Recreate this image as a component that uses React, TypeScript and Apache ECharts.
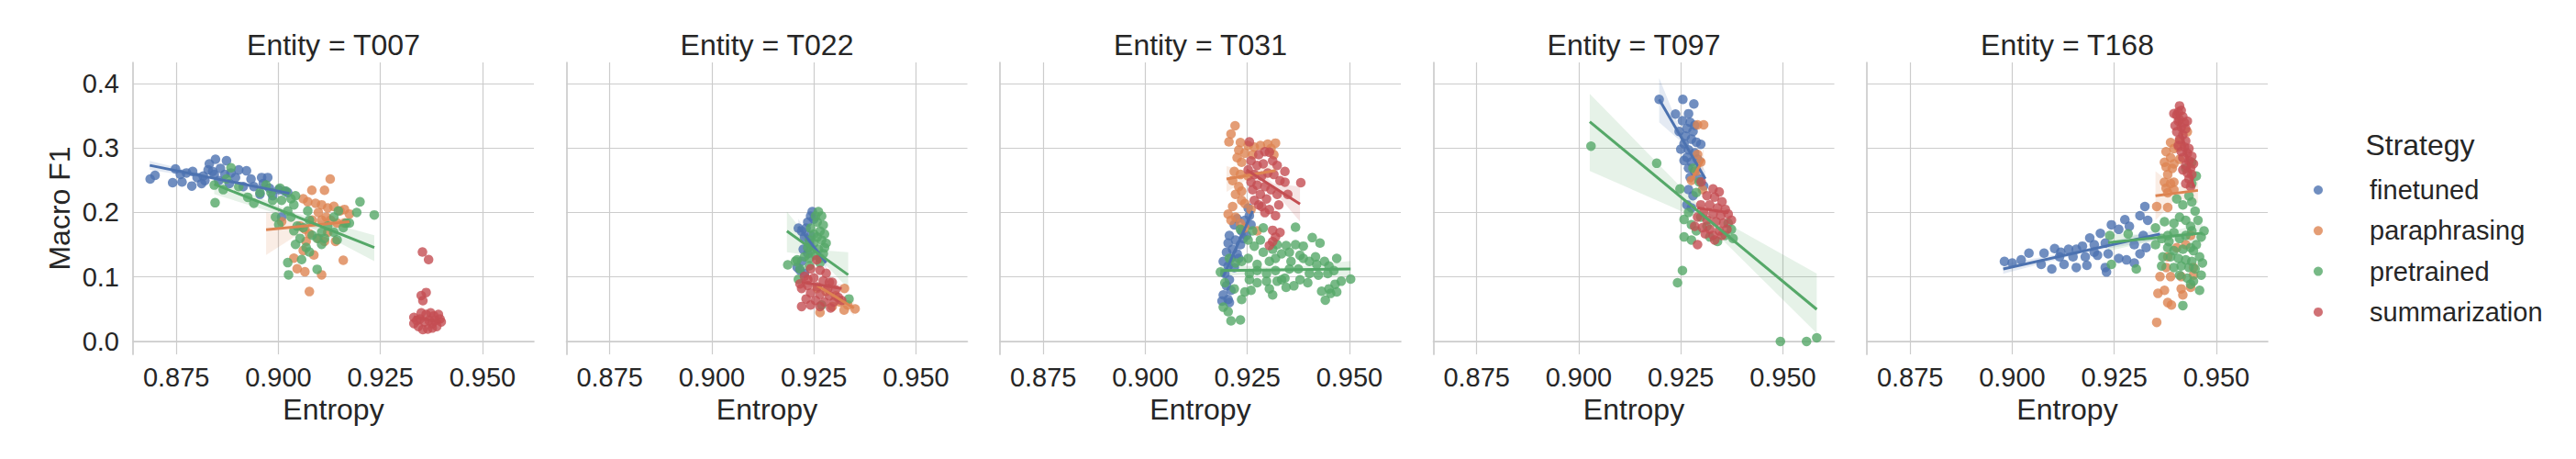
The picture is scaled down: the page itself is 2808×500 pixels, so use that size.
import React, { useEffect, useRef } from "react";
import * as echarts from "echarts";

// ---------- categories / ticks ----------
const entities = ["T007", "T022", "T031", "T097", "T168"];
const strategies = ["finetuned", "paraphrasing", "pretrained", "summarization"];
const colors = ["#4C72B0", "#DD8452", "#55A868", "#C44E52"];
const xTicks = [0.875, 0.9, 0.925, 0.95];
const yTicks = [0, 0.1, 0.2, 0.3, 0.4];

// ---------- T007 ----------
const T007_finetuned = [
  [0.8686, 0.2519], [0.8698, 0.2575], [0.8741, 0.2462], [0.8748, 0.2675], [0.8764, 0.2472], [0.876, 0.259],
  [0.8775, 0.2613], [0.8788, 0.241], [0.879, 0.2637], [0.8801, 0.2542], [0.8812, 0.2448], [0.8816, 0.2566],
  [0.8828, 0.266], [0.8831, 0.2755], [0.8846, 0.2825], [0.8843, 0.259], [0.8858, 0.2684], [0.8854, 0.2495],
  [0.8873, 0.2802], [0.8869, 0.259], [0.888, 0.2448], [0.8884, 0.2613], [0.8895, 0.2542], [0.8903, 0.266],
  [0.8922, 0.2646], [0.8914, 0.2401], [0.8933, 0.2519], [0.894, 0.2401], [0.8959, 0.2542], [0.8974, 0.2542],
  [0.8963, 0.2448], [0.8978, 0.2377], [0.9001, 0.2354], [0.9008, 0.1929], [0.9016, 0.233], [0.9023, 0.2307],
  [0.8955, 0.2283], [0.8986, 0.2259], [0.882, 0.2495], [0.8839, 0.2637],
];
const T007_paraphrasing = [
  [0.9127, 0.2519], [0.9082, 0.2344], [0.9113, 0.2344], [0.9061, 0.2212], [0.9072, 0.2165], [0.9091, 0.2142],
  [0.9106, 0.2118], [0.9121, 0.2071], [0.9136, 0.2094], [0.9151, 0.2024], [0.9174, 0.1976], [0.9162, 0.2047],
  [0.9098, 0.2], [0.9083, 0.1882], [0.9106, 0.1882], [0.9117, 0.1929], [0.9128, 0.1882], [0.9144, 0.1835],
  [0.9162, 0.1835], [0.9065, 0.1741], [0.9076, 0.167], [0.9098, 0.1599], [0.9113, 0.1552], [0.9068, 0.1552],
  [0.9061, 0.141], [0.9087, 0.134], [0.9038, 0.1292], [0.9046, 0.1127], [0.9065, 0.108], [0.9106, 0.1033],
  [0.9159, 0.1259], [0.9076, 0.0774], [0.914, 0.1552], [0.9121, 0.1693], [0.9008, 0.1858], [0.9053, 0.1788],
];
const T007_pretrained = [
  [0.8845, 0.2151], [0.8884, 0.2693], [0.8873, 0.2519], [0.8865, 0.2354], [0.8843, 0.2425], [0.8903, 0.2401],
  [0.8925, 0.2236], [0.894, 0.2142], [0.8955, 0.2307], [0.897, 0.2425], [0.8982, 0.2307], [0.8986, 0.2189],
  [0.9004, 0.2377], [0.9019, 0.233], [0.9008, 0.2189], [0.9031, 0.2212], [0.9042, 0.2259], [0.9038, 0.2118],
  [0.9023, 0.2024], [0.9031, 0.1929], [0.9046, 0.1788], [0.9038, 0.1717], [0.9061, 0.1764], [0.9072, 0.2024],
  [0.9076, 0.1882], [0.9083, 0.1646], [0.9053, 0.1599], [0.9042, 0.1505], [0.9068, 0.1458], [0.9076, 0.1387],
  [0.9057, 0.1269], [0.9023, 0.1222], [0.9025, 0.1033], [0.9095, 0.1118], [0.9095, 0.1599], [0.9106, 0.1693],
  [0.9121, 0.1788], [0.9136, 0.1693], [0.9147, 0.2024], [0.9144, 0.1575], [0.9159, 0.1764], [0.9166, 0.1835],
  [0.9174, 0.1835], [0.9192, 0.2], [0.92, 0.2165], [0.9235, 0.1962], [0.9001, 0.1811], [0.8993, 0.1929],
  [0.9106, 0.1505], [0.9136, 0.1929], [0.9113, 0.1599],
];
const T007_summarization = [
  [0.9353, 0.1387], [0.9368, 0.1269], [0.9362, 0.0759], [0.935, 0.0712], [0.9354, 0.0632], [0.9332, 0.0373],
  [0.9339, 0.0325], [0.935, 0.0443], [0.9362, 0.042], [0.9373, 0.0443], [0.9381, 0.0396], [0.9392, 0.042],
  [0.9399, 0.0302], [0.9388, 0.0231], [0.9377, 0.0208], [0.9366, 0.0193], [0.9354, 0.0184], [0.9343, 0.0231],
  [0.9332, 0.0278], [0.9347, 0.0349], [0.9358, 0.0302], [0.9369, 0.0325], [0.9377, 0.0278], [0.9384, 0.0325],
  [0.9396, 0.0349],
];
const T007_fits = [
  [[0.8685, 0.2731], [0.9027, 0.2297]],
  [[0.897, 0.1731], [0.9174, 0.1858]],
  [[0.8843, 0.2439], [0.9235, 0.1458]],
  [[0.9332, 0.038], [0.9399, 0.03]],
];
const T007_bands = [
  [[0.8685, 0.2661, 0.2801], [0.8856, 0.2494, 0.2534], [0.9027, 0.2247, 0.2347]],
  [[0.897, 0.134, 0.2], [0.9072, 0.1755, 0.1835], [0.9174, 0.178, 0.194]],
  [[0.8843, 0.2283, 0.2542], [0.9039, 0.19, 0.1996], [0.9235, 0.1245, 0.1646]],
  [[0.9332, 0.032, 0.044], [0.9366, 0.031, 0.037], [0.9399, 0.024, 0.036]],
];

// ---------- T022 ----------
const T022_finetuned = [
  [0.9246, 0.2014], [0.9242, 0.1944], [0.9235, 0.185], [0.9231, 0.1757], [0.922, 0.171], [0.9212, 0.1757],
  [0.9227, 0.1617], [0.9239, 0.1523], [0.9224, 0.143], [0.9235, 0.136], [0.922, 0.1243], [0.9216, 0.1103],
  [0.9227, 0.1056], [0.9209, 0.115], [0.925, 0.1897], [0.9242, 0.164],
];
const T022_paraphrasing = [
  [0.9325, 0.0822], [0.9324, 0.0486], [0.9351, 0.0505], [0.9265, 0.0449], [0.9295, 0.0542], [0.9314, 0.0612],
  [0.9333, 0.0565], [0.928, 0.0776], [0.9303, 0.0706], [0.9258, 0.0822],
];
const T022_pretrained = [
  [0.9261, 0.2014], [0.9269, 0.1944], [0.9258, 0.185], [0.9273, 0.1804], [0.9265, 0.171], [0.9276, 0.1664],
  [0.9258, 0.1617], [0.9269, 0.157], [0.928, 0.1523], [0.9276, 0.1453], [0.925, 0.1523], [0.9242, 0.1407],
  [0.9235, 0.1453], [0.9261, 0.143], [0.9254, 0.1336], [0.9239, 0.129], [0.9227, 0.1313], [0.9209, 0.1266],
  [0.9186, 0.1187], [0.9205, 0.1243], [0.9216, 0.1126], [0.9212, 0.0963], [0.9239, 0.1173], [0.9265, 0.129],
  [0.9273, 0.136], [0.9242, 0.1757], [0.9254, 0.1944], [0.925, 0.1664], [0.9239, 0.157], [0.9265, 0.122],
  [0.9336, 0.0659], [0.9269, 0.0565],
];
const T022_summarization = [
  [0.9257, 0.1266], [0.9242, 0.1126], [0.9265, 0.1103], [0.928, 0.1056], [0.9227, 0.1009], [0.925, 0.0986],
  [0.9273, 0.0939], [0.9295, 0.0916], [0.9235, 0.0869], [0.9258, 0.0846], [0.9284, 0.0822], [0.9303, 0.0799],
  [0.922, 0.0822], [0.9242, 0.0752], [0.9265, 0.0729], [0.9288, 0.0706], [0.931, 0.0682], [0.9231, 0.0659],
  [0.9254, 0.0636], [0.9276, 0.0612], [0.9299, 0.0612], [0.9318, 0.0636], [0.922, 0.0542], [0.9242, 0.0565],
  [0.9265, 0.0542], [0.9291, 0.0519], [0.9288, 0.0916], [0.9216, 0.0893], [0.9235, 0.0963],
];
const T022_fits = [
  [[0.9212, 0.178], [0.928, 0.122]],
  [[0.9258, 0.0869], [0.9348, 0.0519]],
  [[0.9184, 0.171], [0.9334, 0.1033]],
  [[0.922, 0.0916], [0.9318, 0.0822]],
];
const T022_bands = [
  [[0.9212, 0.166, 0.19], [0.9246, 0.146, 0.154], [0.928, 0.112, 0.132]],
  [[0.9258, 0.078, 0.096], [0.9303, 0.066, 0.073], [0.9348, 0.04, 0.064]],
  [[0.9184, 0.1383, 0.2014], [0.9259, 0.132, 0.142], [0.9334, 0.0822, 0.1383]],
  [[0.922, 0.085, 0.098], [0.9269, 0.084, 0.09], [0.9318, 0.075, 0.089]],
];

// ---------- T031 ----------
const T031_finetuned = [
  [0.9252, 0.2069], [0.9255, 0.195], [0.9244, 0.1879], [0.9259, 0.1809], [0.9225, 0.1903], [0.9218, 0.1809],
  [0.9236, 0.1714], [0.9248, 0.1643], [0.9206, 0.1643], [0.9221, 0.1572], [0.9203, 0.1525], [0.9233, 0.1501],
  [0.9214, 0.143], [0.9199, 0.1383], [0.9225, 0.1359], [0.921, 0.1288], [0.9191, 0.1241], [0.9203, 0.117],
  [0.9218, 0.1147], [0.9195, 0.1052], [0.9206, 0.0957], [0.9199, 0.0863], [0.921, 0.0792], [0.9191, 0.0721],
  [0.9203, 0.065], [0.9188, 0.0626], [0.9206, 0.0603], [0.924, 0.1596], [0.9229, 0.1288],
];
const T031_paraphrasing = [
  [0.922, 0.3345], [0.921, 0.3217], [0.9205, 0.3095], [0.9233, 0.3085], [0.9252, 0.3038], [0.9267, 0.3014],
  [0.9282, 0.3038], [0.93, 0.3061], [0.9319, 0.3076], [0.9229, 0.2967], [0.9244, 0.292], [0.9263, 0.2896],
  [0.9225, 0.2849], [0.9236, 0.2778], [0.9218, 0.2636], [0.9233, 0.2589], [0.9214, 0.2494], [0.9229, 0.24],
  [0.9221, 0.2281], [0.9236, 0.2187], [0.9214, 0.2092], [0.9203, 0.1974], [0.9221, 0.1927], [0.921, 0.1879],
  [0.9233, 0.1832], [0.9244, 0.1761], [0.9274, 0.1714], [0.9259, 0.2045], [0.9244, 0.2139], [0.9252, 0.2565],
  [0.9236, 0.2329], [0.9308, 0.2991], [0.9315, 0.2896],
];
const T031_pretrained = [
  [0.9368, 0.1771], [0.9289, 0.1761], [0.9263, 0.1714], [0.9233, 0.1738], [0.9409, 0.161], [0.9428, 0.1525],
  [0.9252, 0.1572], [0.9267, 0.1478], [0.9289, 0.1383], [0.9312, 0.143], [0.9323, 0.1501], [0.9345, 0.1487],
  [0.9368, 0.1501], [0.9387, 0.1478], [0.9353, 0.1383], [0.9379, 0.1336], [0.9319, 0.1288], [0.9304, 0.1241],
  [0.9274, 0.1194], [0.9252, 0.1288], [0.9387, 0.1288], [0.9402, 0.1241], [0.9417, 0.1312], [0.942, 0.1194],
  [0.9439, 0.1241], [0.945, 0.117], [0.9462, 0.1099], [0.9447, 0.1052], [0.9469, 0.1288], [0.9424, 0.1028],
  [0.9402, 0.1052], [0.9375, 0.1123], [0.9353, 0.1123], [0.9334, 0.0957], [0.9319, 0.1099], [0.9297, 0.1052],
  [0.9274, 0.1099], [0.9255, 0.0957], [0.9236, 0.1241], [0.9206, 0.1288], [0.9184, 0.1076], [0.9195, 0.091],
  [0.9218, 0.0816], [0.9244, 0.0768], [0.9236, 0.065], [0.9259, 0.0792], [0.9274, 0.091], [0.9297, 0.0934],
  [0.9312, 0.0721], [0.9304, 0.0816], [0.9323, 0.0934], [0.9342, 0.0981], [0.9345, 0.0839], [0.9364, 0.0863],
  [0.9379, 0.0957], [0.9398, 0.091], [0.9432, 0.0778], [0.945, 0.0816], [0.9454, 0.0745], [0.9465, 0.0887],
  [0.948, 0.0934], [0.9503, 0.0967], [0.9441, 0.0641], [0.9469, 0.0768], [0.9191, 0.0532], [0.9203, 0.0461],
  [0.921, 0.0319], [0.9233, 0.0333], [0.9221, 0.1217], [0.9357, 0.1241], [0.9334, 0.1359], [0.9282, 0.1572],
  [0.9255, 0.1052],
];
const T031_summarization = [
  [0.9255, 0.3095], [0.9278, 0.2896], [0.9293, 0.2943], [0.9304, 0.2934], [0.9312, 0.2801], [0.9323, 0.273],
  [0.9342, 0.2636], [0.9259, 0.2801], [0.9274, 0.273], [0.9289, 0.2754], [0.9252, 0.266], [0.9267, 0.2589],
  [0.9285, 0.2565], [0.93, 0.2612], [0.9315, 0.2589], [0.933, 0.2494], [0.9342, 0.247], [0.9381, 0.2461],
  [0.9259, 0.247], [0.9274, 0.2423], [0.9293, 0.24], [0.9308, 0.2352], [0.9323, 0.2281], [0.9349, 0.2281],
  [0.9282, 0.2281], [0.9297, 0.221], [0.9327, 0.2116], [0.9267, 0.2187], [0.9285, 0.2092], [0.9304, 0.2045],
  [0.9319, 0.195], [0.9293, 0.1998], [0.9312, 0.1723], [0.933, 0.169], [0.9319, 0.1619], [0.9312, 0.1548],
  [0.9304, 0.1487], [0.9278, 0.2116], [0.9263, 0.2352],
];
const T031_fits = [
  [[0.9191, 0.1005], [0.9263, 0.2021]],
  [[0.9199, 0.2518], [0.9319, 0.265]],
  [[0.9184, 0.1099], [0.9503, 0.1123]],
  [[0.9248, 0.266], [0.9379, 0.213]],
];
const T031_bands = [
  [[0.9191, 0.09, 0.111], [0.9227, 0.147, 0.155], [0.9263, 0.19, 0.214]],
  [[0.9199, 0.232, 0.272], [0.9259, 0.254, 0.263], [0.9319, 0.253, 0.277]],
  [[0.9184, 0.101, 0.119], [0.9344, 0.108, 0.114], [0.9503, 0.1, 0.125]],
  [[0.9248, 0.251, 0.281], [0.9314, 0.234, 0.245], [0.9379, 0.186, 0.24]],
];

// ---------- T097 ----------
const T097_finetuned = [
  [0.9197, 0.3754], [0.9255, 0.3754], [0.9282, 0.3682], [0.9237, 0.3526], [0.9269, 0.3531], [0.9254, 0.3422],
  [0.9273, 0.3398], [0.9284, 0.3351], [0.9265, 0.3303], [0.928, 0.3256], [0.9246, 0.3256], [0.9261, 0.3185],
  [0.9276, 0.3137], [0.9288, 0.309], [0.9299, 0.3057], [0.9258, 0.3066], [0.925, 0.2981], [0.9269, 0.2972],
  [0.9284, 0.2924], [0.9265, 0.2853], [0.9276, 0.2782], [0.9269, 0.2687], [0.9284, 0.264], [0.9273, 0.2545],
  [0.9295, 0.2521], [0.9269, 0.2355], [0.928, 0.2261], [0.9265, 0.2118], [0.9276, 0.2071], [0.9306, 0.2412],
  [0.9258, 0.2806], [0.9291, 0.2829],
];
const T097_paraphrasing = [
  [0.9291, 0.336], [0.9306, 0.336], [0.9291, 0.29], [0.9299, 0.2782], [0.9276, 0.2498], [0.9288, 0.264],
  [0.9303, 0.2355],
];
const T097_pretrained = [
  [0.903, 0.3028], [0.9191, 0.2763], [0.9248, 0.2365], [0.9288, 0.2308], [0.928, 0.2687], [0.9295, 0.2474],
  [0.9269, 0.2], [0.9258, 0.1891], [0.9276, 0.181], [0.9288, 0.1716], [0.9258, 0.1621], [0.9276, 0.1573],
  [0.934, 0.155], [0.9366, 0.1834], [0.9374, 0.1739], [0.9378, 0.1597], [0.9359, 0.1645], [0.9321, 0.1621],
  [0.9254, 0.11], [0.9242, 0.091], [0.9494, 0.0], [0.9558, 0.0], [0.9583, 0.0057], [0.9299, 0.1929],
  [0.9314, 0.1787],
];
const T097_summarization = [
  [0.93, 0.2474], [0.9329, 0.2365], [0.9344, 0.2318], [0.9314, 0.2261], [0.9333, 0.2237], [0.9351, 0.2166],
  [0.9299, 0.2118], [0.9321, 0.2118], [0.934, 0.2071], [0.9359, 0.2047], [0.9306, 0.2], [0.9329, 0.1976],
  [0.9348, 0.1953], [0.9366, 0.1976], [0.9291, 0.1929], [0.9314, 0.1882], [0.9336, 0.1858], [0.9355, 0.1834],
  [0.9374, 0.1882], [0.9284, 0.1787], [0.9303, 0.1763], [0.9321, 0.1739], [0.9344, 0.1716], [0.9363, 0.1739],
  [0.931, 0.1668], [0.9329, 0.1645], [0.9351, 0.1645], [0.9291, 0.1502], [0.9333, 0.1573],
];
const T097_fits = [
  [[0.9197, 0.3754], [0.931, 0.2521]],
  [[0.9273, 0.2474], [0.9306, 0.2829]],
  [[0.9027, 0.3408], [0.9583, 0.0498]],
  [[0.9291, 0.2071], [0.9366, 0.2]],
];
const T097_bands = [
  [[0.9197, 0.3398, 0.4085], [0.9254, 0.308, 0.32], [0.931, 0.24, 0.264]],
  [[0.9273, 0.232, 0.263], [0.929, 0.26, 0.27], [0.9306, 0.266, 0.3]],
  [[0.9027, 0.2645, 0.3839], [0.9305, 0.187, 0.204], [0.9583, 0.0128, 0.1052]],
  [[0.9291, 0.2, 0.214], [0.9329, 0.2, 0.207], [0.9366, 0.192, 0.208]],
];

// ---------- T168 ----------
const T168_finetuned = [
  [0.8981, 0.1241], [0.9, 0.1217], [0.9022, 0.1265], [0.9041, 0.1369], [0.9078, 0.1369], [0.9071, 0.1194],
  [0.9097, 0.1123], [0.9104, 0.144], [0.9116, 0.1312], [0.9127, 0.1194], [0.9138, 0.143], [0.9149, 0.1312],
  [0.9157, 0.1147], [0.9172, 0.1478], [0.9179, 0.1312], [0.9183, 0.118], [0.919, 0.1605], [0.9201, 0.1501],
  [0.9209, 0.1336], [0.9216, 0.1676], [0.9228, 0.1525], [0.9235, 0.1359], [0.9243, 0.1809], [0.9261, 0.1738],
  [0.9276, 0.1889], [0.9287, 0.1785], [0.9299, 0.1501], [0.9313, 0.195], [0.9325, 0.2092], [0.9332, 0.1879],
  [0.9321, 0.1643], [0.9313, 0.1359], [0.9228, 0.1147], [0.9231, 0.1076], [0.9261, 0.1288], [0.928, 0.1265],
  [0.9299, 0.1217], [0.9328, 0.1454], [0.9201, 0.1383], [0.9157, 0.143], [0.9119, 0.1383],
];
const T168_paraphrasing = [
  [0.9354, 0.0296], [0.9357, 0.0745], [0.9373, 0.0792], [0.9381, 0.0603], [0.939, 0.0565], [0.9362, 0.1005],
  [0.9377, 0.1147], [0.9388, 0.1005], [0.9414, 0.1005], [0.9414, 0.0816], [0.9418, 0.0721], [0.9437, 0.0839],
  [0.9444, 0.1028], [0.9354, 0.2092], [0.9381, 0.2078], [0.9377, 0.2376], [0.9373, 0.247], [0.9388, 0.2447],
  [0.9396, 0.247], [0.9381, 0.2589], [0.9392, 0.2683], [0.9377, 0.2707], [0.9396, 0.2754], [0.9388, 0.2849],
  [0.9377, 0.2943], [0.9396, 0.2991], [0.9388, 0.3085], [0.941, 0.3109], [0.9407, 0.3014], [0.9429, 0.3251],
  [0.941, 0.2825], [0.9373, 0.2778], [0.9381, 0.2305], [0.9396, 0.2352], [0.9437, 0.1643], [0.9425, 0.1501],
  [0.9403, 0.1454], [0.9444, 0.1147], [0.9381, 0.1312],
];
const T168_pretrained = [
  [0.9239, 0.1643], [0.9243, 0.1194], [0.9304, 0.1123], [0.9284, 0.1667], [0.9351, 0.1761], [0.9373, 0.1856],
  [0.9366, 0.1596], [0.9381, 0.1643], [0.9396, 0.1832], [0.941, 0.1927], [0.9425, 0.1879], [0.9437, 0.1785],
  [0.9448, 0.2021], [0.9455, 0.1879], [0.944, 0.2163], [0.9433, 0.2258], [0.9418, 0.2116], [0.9403, 0.221],
  [0.944, 0.2447], [0.9451, 0.2565], [0.9425, 0.2683], [0.944, 0.2778], [0.9396, 0.169], [0.941, 0.1596],
  [0.9425, 0.1643], [0.944, 0.1714], [0.9463, 0.1619], [0.9381, 0.1454], [0.9396, 0.1407], [0.9418, 0.143],
  [0.9437, 0.1454], [0.9451, 0.1501], [0.9369, 0.1312], [0.9388, 0.1312], [0.9407, 0.1288], [0.9425, 0.1265],
  [0.944, 0.1241], [0.9459, 0.1312], [0.9396, 0.1147], [0.9414, 0.117], [0.9433, 0.1147], [0.9448, 0.1123],
  [0.9463, 0.1028], [0.941, 0.1028], [0.9429, 0.0981], [0.9444, 0.0934], [0.9459, 0.0792], [0.9437, 0.0887],
  [0.9418, 0.0556], [0.9366, 0.117], [0.9351, 0.1501], [0.9384, 0.1548], [0.947, 0.1714], [0.9444, 0.1407],
  [0.9466, 0.1217],
];
const T168_summarization = [
  [0.941, 0.3652], [0.9414, 0.3582], [0.9403, 0.3511], [0.9418, 0.3487], [0.9407, 0.3416], [0.9422, 0.3392],
  [0.9399, 0.3345], [0.9414, 0.3322], [0.9425, 0.3298], [0.9403, 0.3251], [0.9418, 0.3203], [0.941, 0.3132],
  [0.9425, 0.3109], [0.9407, 0.3038], [0.9422, 0.3014], [0.9433, 0.2991], [0.9414, 0.2943], [0.9429, 0.292],
  [0.944, 0.2872], [0.9418, 0.2849], [0.9433, 0.2801], [0.9444, 0.2754], [0.9425, 0.273], [0.9437, 0.2683],
  [0.9418, 0.266], [0.9429, 0.2612], [0.944, 0.2589], [0.9433, 0.2518], [0.9425, 0.2447], [0.9437, 0.24],
  [0.941, 0.344], [0.9396, 0.3534], [0.9407, 0.3558], [0.9429, 0.3416],
];
const T168_fits = [
  [[0.8978, 0.1123], [0.9362, 0.1667]],
  [[0.9351, 0.2258], [0.9455, 0.2343]],
  [[0.9235, 0.1534], [0.9466, 0.1681]],
  [[0.9403, 0.3582], [0.9444, 0.24]],
];
const T168_bands = [
  [[0.8978, 0.105, 0.12], [0.917, 0.137, 0.142], [0.9362, 0.158, 0.175]],
  [[0.9351, 0.188, 0.264], [0.9403, 0.222, 0.238], [0.9455, 0.215, 0.255]],
  [[0.9235, 0.14, 0.167], [0.9351, 0.157, 0.165], [0.9466, 0.153, 0.183]],
  [[0.9403, 0.343, 0.373], [0.9424, 0.294, 0.304], [0.9444, 0.225, 0.255]],
];

const panelPoints = [
  [T007_finetuned, T007_paraphrasing, T007_pretrained, T007_summarization],
  [T022_finetuned, T022_paraphrasing, T022_pretrained, T022_summarization],
  [T031_finetuned, T031_paraphrasing, T031_pretrained, T031_summarization],
  [T097_finetuned, T097_paraphrasing, T097_pretrained, T097_summarization],
  [T168_finetuned, T168_paraphrasing, T168_pretrained, T168_summarization],
];
const panelFits = [T007_fits, T022_fits, T031_fits, T097_fits, T168_fits];
const panelBands = [T007_bands, T022_bands, T031_bands, T097_bands, T168_bands];

// ---------- layout / style ----------
const FONT = "'Liberation Sans', Arial, Helvetica, sans-serif";
const TEXT = "#262626";
const GRIDC = "#cccccc";
const G_LEFT = 145;
const G_PITCH = 472.5;
const G_W = 437;
const G_TOP = 68;
const G_H = 318;
const X_MIN = 0.8644;
const X_MAX = 0.9626;
const Y_MIN = -0.02;
const Y_MAX = 0.4327;
const LEG_MARK_X = 2527;
const LEG_TEXT_X = 2583;
const LEG_Y0 = 207;
const LEG_STEP = 44.3;

function hexA(hex: string, a: number) {
  const r = parseInt(hex.slice(1, 3), 16);
  const g = parseInt(hex.slice(3, 5), 16);
  const b = parseInt(hex.slice(5, 7), 16);
  return `rgba(${r},${g},${b},${a})`;
}

function buildOption() {
  const grids: any[] = [];
  const xAxes: any[] = [];
  const yAxes: any[] = [];
  const titles: any[] = [];
  const series: any[] = [];
  const lineSeries: any[] = [];

  entities.forEach((ent, p) => {
    const left = G_LEFT + p * G_PITCH;
    grids.push({ left, top: G_TOP, width: G_W, height: G_H, containLabel: false });
    titles.push({
      text: `Entity = ${ent}`,
      left: left + G_W / 2,
      top: 33,
      padding: 0,
      textAlign: "center",
      textStyle: { fontFamily: FONT, fontSize: 32, fontWeight: "normal", color: TEXT },
    });
    xAxes.push({
      type: "value",
      gridIndex: p,
      min: X_MIN,
      max: X_MAX,
      name: "Entropy",
      nameLocation: "middle",
      nameGap: 43,
      nameTextStyle: { fontFamily: FONT, fontSize: 32, color: TEXT },
      axisLine: { show: true, lineStyle: { color: GRIDC, width: 1.7 } },
      axisTick: { show: false, customValues: xTicks },
      axisLabel: {
        customValues: xTicks,
        formatter: (v: number) => v.toFixed(3),
        fontFamily: FONT,
        fontSize: 29,
        color: TEXT,
        margin: 10,
      },
      splitLine: { show: true, lineStyle: { color: GRIDC, width: 1.2 } },
    });
    yAxes.push({
      type: "value",
      gridIndex: p,
      min: Y_MIN,
      max: Y_MAX,
      name: p === 0 ? "Macro F1" : "",
      nameLocation: "middle",
      nameRotate: 90,
      nameGap: 64,
      nameTextStyle: { fontFamily: FONT, fontSize: 32, color: TEXT },
      axisLine: { show: true, lineStyle: { color: GRIDC, width: 1.7 } },
      axisTick: { show: false, customValues: yTicks },
      axisLabel: {
        show: p === 0,
        customValues: yTicks,
        formatter: (v: number) => v.toFixed(1),
        fontFamily: FONT,
        fontSize: 29,
        color: TEXT,
        margin: 15,
      },
      splitLine: { show: true, lineStyle: { color: GRIDC, width: 1.2 } },
    });

    strategies.forEach((st, s) => {
      series.push({
        type: "scatter",
        name: st,
        xAxisIndex: p,
        yAxisIndex: p,
        data: panelPoints[p][s],
        symbol: "circle",
        symbolSize: 10.5,
        itemStyle: { color: colors[s], opacity: 0.8 },
        z: 2,
        silent: true,
      });
      const band = panelBands[p][s];
      series.push({
        type: "custom",
        name: `${st} ci ${ent}`,
        xAxisIndex: p,
        yAxisIndex: p,
        data: band.map((b) => [b[0], b[1], b[2]]),
        encode: { x: 0, y: [1, 2] },
        z: 2,
        silent: true,
        renderItem: (params: any, api: any) => {
          if (params.dataIndex !== 0) return null;
          const upper = band.map((b) => api.coord([b[0], b[2]]));
          const lower = band.map((b) => api.coord([b[0], b[1]])).reverse();
          return {
            type: "polygon",
            shape: { points: upper.concat(lower) },
            style: { fill: hexA(colors[s], 0.15) },
          };
        },
      });
      lineSeries.push({
        type: "line",
        name: `${st} fit ${ent}`,
        xAxisIndex: p,
        yAxisIndex: p,
        data: panelFits[p][s],
        symbol: "none",
        lineStyle: { color: colors[s], width: 3 },
        z: 3,
        silent: true,
      });
    });
  });

  titles.push({
    text: "Strategy",
    left: 2638,
    top: 142,
    padding: 0,
    textAlign: "center",
    textStyle: { fontFamily: FONT, fontSize: 32, fontWeight: "normal", color: TEXT },
  });

  const legendGraphics: any[] = [];
  strategies.forEach((st, s) => {
    const y = LEG_Y0 + s * LEG_STEP;
    legendGraphics.push({
      type: "circle",
      shape: { cx: LEG_MARK_X, cy: y, r: 5 },
      style: { fill: colors[s], opacity: 0.8 },
      silent: true,
    });
    legendGraphics.push({
      type: "text",
      x: LEG_TEXT_X,
      y,
      style: {
        text: st,
        fill: TEXT,
        font: `29px ${FONT}`,
        textAlign: "left",
        textVerticalAlign: "middle",
        verticalAlign: "middle",
      },
      silent: true,
    });
  });

  return {
    animation: false,
    backgroundColor: "#ffffff",
    title: titles,
    grid: grids,
    xAxis: xAxes,
    yAxis: yAxes,
    graphic: legendGraphics,
    series: series.concat(lineSeries),
  };
}

export default function App() {
  const ref = useRef<HTMLDivElement>(null);
  useEffect(() => {
    document.body.style.margin = "0";
    if (!ref.current) return;
    const chart = echarts.init(ref.current, undefined, { renderer: "svg" });
    chart.setOption(buildOption() as any);
    return () => chart.dispose();
  }, []);
  return (
    <div
      ref={ref}
      style={{ position: "absolute", left: 0, top: 0, width: 2808, height: 500, background: "#fff" }}
    />
  );
}
